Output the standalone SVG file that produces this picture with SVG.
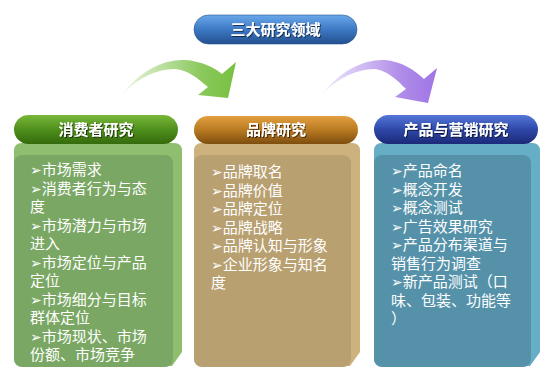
<svg xmlns="http://www.w3.org/2000/svg" width="560" height="380" viewBox="0 0 560 380">
<defs>
<linearGradient id="gTop" x1="0" y1="0" x2="0" y2="1"><stop offset="0" stop-color="#6aa8ea"/><stop offset="0.5" stop-color="#3d79c4"/><stop offset="1" stop-color="#23508f"/></linearGradient>
<linearGradient id="gGreen" x1="0" y1="0" x2="0" y2="1"><stop offset="0" stop-color="#79b83a"/><stop offset="0.5" stop-color="#4f8f1c"/><stop offset="1" stop-color="#356b0c"/></linearGradient>
<linearGradient id="gBrown" x1="0" y1="0" x2="0" y2="1"><stop offset="0" stop-color="#e3a040"/><stop offset="0.5" stop-color="#b97a22"/><stop offset="1" stop-color="#7d4e0e"/></linearGradient>
<linearGradient id="gBlue" x1="0" y1="0" x2="0" y2="1"><stop offset="0" stop-color="#5577d8"/><stop offset="0.5" stop-color="#2e48a8"/><stop offset="1" stop-color="#1b2a78"/></linearGradient>
<linearGradient id="aGreen" x1="0" y1="0" x2="1" y2="0"><stop offset="0" stop-color="#7dc24a" stop-opacity="0.15"/><stop offset="0.7" stop-color="#7dc24a" stop-opacity="0.9"/><stop offset="1" stop-color="#78c040"/></linearGradient>
<linearGradient id="aPurple" x1="0" y1="0" x2="1" y2="0"><stop offset="0" stop-color="#a57ee6" stop-opacity="0.15"/><stop offset="0.7" stop-color="#a57ee6" stop-opacity="0.9"/><stop offset="1" stop-color="#a074e6"/></linearGradient>
<filter id="ts" x="-10%" y="-30%" width="120%" height="160%"><feDropShadow dx="1" dy="1" stdDeviation="0.6" flood-color="#000000" flood-opacity="0.6"/></filter>
</defs>
<style>
.pill{font-family:"Noto Sans CJK SC","Noto Sans CJK JP",sans-serif;font-size:15px;font-weight:bold;fill:#ffffff;text-anchor:middle;filter:url(#ts)}
.item{font-family:"Noto Sans CJK SC","DejaVu Sans",sans-serif;font-size:15px;fill:#ffffff}
.ar{font-family:"DejaVu Sans",sans-serif;font-size:14px}
</style>
<rect x="0" y="0" width="560" height="380" fill="#ffffff"/>
<g id="top">
<rect x="194" y="15" width="163" height="29" rx="14.5" fill="url(#gTop)" stroke="#2a5590" stroke-width="0.6"/>
<text class="pill" x="275.5" y="35">三大研究领域</text>
</g>
<g id="connectors">
<path d="M122,95 C140,70 165,59 185,60 C200,61 214,67 222,74 L236,62 L228,98 L198,95 L208,87 C197,78 188,70 175,69 C155,69 135,80 122,95 Z" fill="url(#aGreen)"/>
<path d="M322,95 C340,70 365,59 385,60 C400,61 415,70 424,79 L437,68 L428,103 L395,97 L406,89 C397,80 388,71 375,69 C355,69 335,80 322,95 Z" fill="url(#aPurple)"/>
</g>
<g id="consumer">
<path d="M22,143 H174 Q182,143 182,151 V352 L172,366 H22 Q14,366 14,358 V151 Q14,143 22,143 Z" fill="#8fbf6e"/>
<rect x="14" y="155" width="159" height="212" rx="8" fill="#7aa763"/>
<rect x="14" y="115" width="164" height="29" rx="14.5" fill="url(#gGreen)"/>
<text class="pill" x="96" y="135">消费者研究</text>
<text class="item" x="30" y="175"><tspan class="ar">➢</tspan>市场需求<tspan x="30" dy="18.5" class="ar">➢</tspan>消费者行为与态<tspan x="30" dy="18.5">度</tspan><tspan x="30" dy="18.5" class="ar">➢</tspan>市场潜力与市场<tspan x="30" dy="18.5">进入</tspan><tspan x="30" dy="18.5" class="ar">➢</tspan>市场定位与产品<tspan x="30" dy="18.5">定位</tspan><tspan x="30" dy="18.5" class="ar">➢</tspan>市场细分与目标<tspan x="30" dy="18.5">群体定位</tspan><tspan x="30" dy="18.5" class="ar">➢</tspan>市场现状、市场<tspan x="30" dy="18.5">份额、市场竞争</tspan></text>
</g>
<g id="brand">
<path d="M202,143 H352 Q360,143 360,151 V352 L350,366 H202 Q194,366 194,358 V151 Q194,143 202,143 Z" fill="#cdb27e"/>
<rect x="194" y="155" width="157" height="212" rx="8" fill="#b9a071"/>
<rect x="194" y="116" width="164" height="28" rx="14" fill="url(#gBrown)"/>
<text class="pill" x="276" y="135">品牌研究</text>
<text class="item" x="211" y="177"><tspan class="ar">➢</tspan>品牌取名<tspan x="211" dy="18.5" class="ar">➢</tspan>品牌价值<tspan x="211" dy="18.5" class="ar">➢</tspan>品牌定位<tspan x="211" dy="18.5" class="ar">➢</tspan>品牌战略<tspan x="211" dy="18.5" class="ar">➢</tspan>品牌认知与形象<tspan x="211" dy="18.5" class="ar">➢</tspan>企业形象与知名<tspan x="211" dy="18.5">度</tspan></text>
</g>
<g id="product">
<path d="M382,143 H532 Q540,143 540,151 V352 L530,366 H382 Q374,366 374,358 V151 Q374,143 382,143 Z" fill="#66adc6"/>
<rect x="374" y="155" width="157" height="212" rx="8" fill="#5592aa"/>
<rect x="374" y="115" width="164" height="29" rx="14.5" fill="url(#gBlue)"/>
<text class="pill" x="456" y="135">产品与营销研究</text>
<text class="item" x="391" y="176"><tspan class="ar">➢</tspan>产品命名<tspan x="391" dy="18.5" class="ar">➢</tspan>概念开发<tspan x="391" dy="18.5" class="ar">➢</tspan>概念测试<tspan x="391" dy="18.5" class="ar">➢</tspan>广告效果研究<tspan x="391" dy="18.5" class="ar">➢</tspan>产品分布渠道与<tspan x="391" dy="18.5">销售行为调查</tspan><tspan x="391" dy="18.5" class="ar">➢</tspan>新产品测试（口<tspan x="391" dy="18.5">味、包装、功能等</tspan><tspan x="391" dy="18.5">）</tspan></text>
</g>
</svg>
